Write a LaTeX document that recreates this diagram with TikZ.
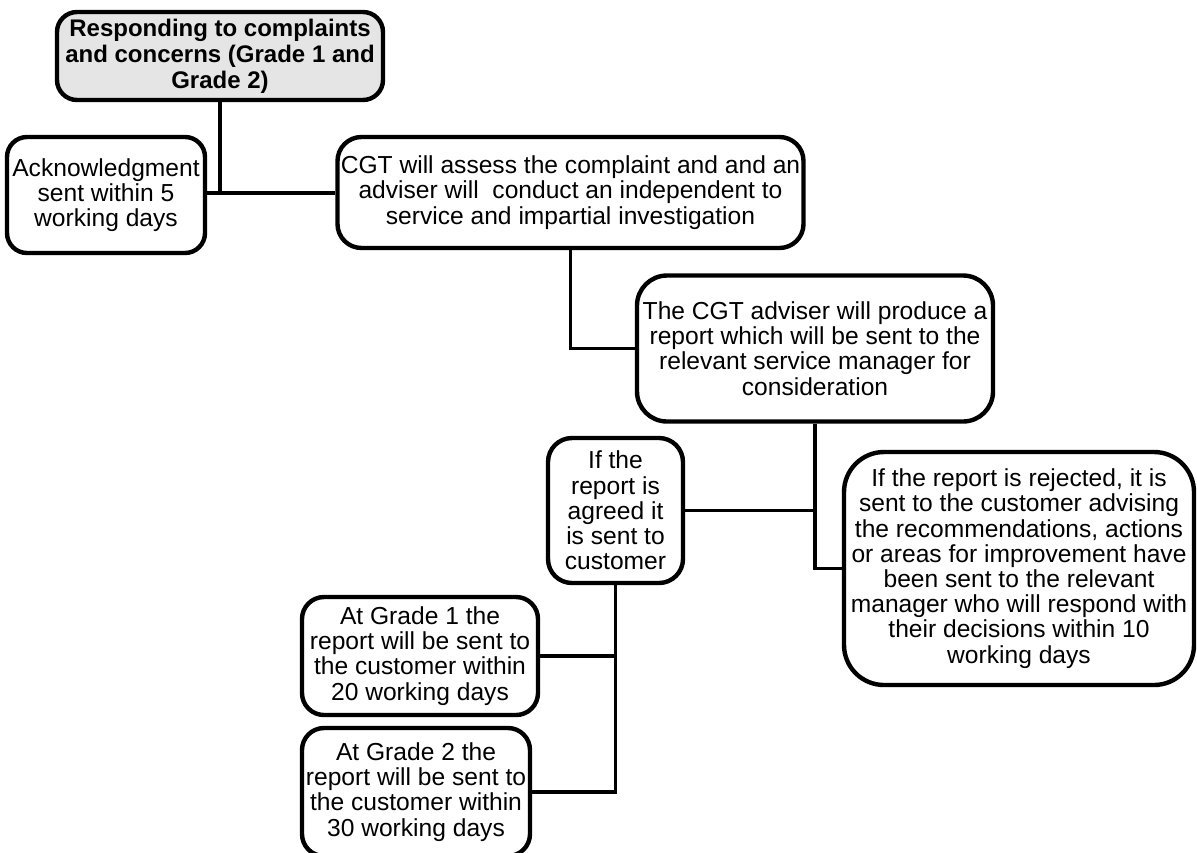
\documentclass[tikz,border=0pt]{standalone}
\usepackage{fontspec}
\setmainfont{Liberation Sans}
\begin{document}
\begin{tikzpicture}[x=0.5pt,y=-0.5pt,
  box/.style={draw=black, line width=2.2pt, fill=white, rectangle, inner sep=0pt, align=center,
    font=\fontsize{12.3pt}{12.6pt}\selectfont},
  conn/.style={draw=black, line width=1.9pt}]
\useasboundingbox (0,0) rectangle (1197,852);
\node[box, fill=black!10, rounded corners=10pt, minimum width=163pt, minimum height=44pt,
  font=\bfseries\fontsize{12pt}{12.9pt}\selectfont] (title) at (220,56)
  {Responding to complaints\\and concerns (Grade 1 and\\Grade 2)};
\node[box, rounded corners=10pt, minimum width=99pt, minimum height=58pt] (ack) at (106,195)
  {Acknowledgment\\sent within 5\\working days};
\node[box, rounded corners=12pt, minimum width=233pt, minimum height=55.5pt] (cgt) at (570.5,192.5)
  {CGT will assess the complaint and and an\\adviser will\ \ conduct an independent to\\service and impartial investigation};
\node[box, rounded corners=15pt, minimum width=178pt, minimum height=73pt] (report) at (815,348.5)
  {The CGT adviser will produce a\\report which will be sent to the\\relevant service manager for\\consideration};
\node[box, rounded corners=12pt, minimum width=67.5pt, minimum height=72.5pt] (agreed) at (615.5,510.5)
  {If the\\report is\\agreed it\\is sent to\\customer};
\node[box, rounded corners=20pt, minimum width=175pt, minimum height=116.5pt] (rejected) at (1019,568.5)
  {If the report is rejected, it is\\sent to the customer advising\\the recommendations, actions\\or areas for improvement have\\been sent to the relevant\\manager who will respond with\\their decisions within 10\\working days};
\node[box, rounded corners=11pt, minimum width=118pt, minimum height=59pt] (grade1) at (420,656)
  {At Grade 1 the\\report will be sent to\\the customer within\\20 working days};
\node[box, rounded corners=11pt, minimum width=114pt, minimum height=64pt] (grade2) at (416,792)
  {At Grade 2 the\\report will be sent to\\the customer within\\30 working days};
\coordinate (j1) at (220,193);
\draw[conn] (title.south) -- (j1);
\draw[conn] (ack.east |- j1) -- (cgt.west |- j1);
\draw[conn] (cgt.south) |- (report.west);
\draw[conn] (report.south) |- (rejected.west);
\draw[conn] (agreed.east) -- (agreed.east -| report.south);
\draw[conn] (agreed.south) |- (grade2.east);
\draw[conn] (grade1.east) -- (grade1.east -| agreed.south);
\end{tikzpicture}
\end{document}
